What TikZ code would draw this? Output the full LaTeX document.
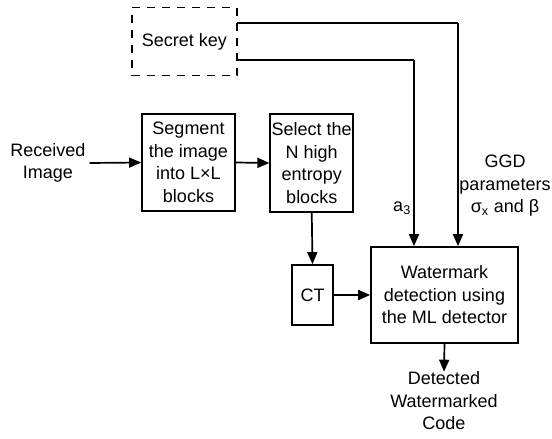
\documentclass[tikz,border=0pt]{standalone}
\usepackage{fontspec}
\setmainfont{Liberation Sans}
\usetikzlibrary{arrows.meta}
\begin{document}
\begin{tikzpicture}[x=1pt,y=-1pt,
  every node/.style={font=\fontsize{18}{22.5}\selectfont, align=center, inner sep=0pt},
  blk/.style={draw, line width=1.7pt, minimum width=#1},
  conn/.style={line width=1.7pt, -{Triangle[length=12pt,width=10pt]}},
  plain/.style={line width=1.7pt}]
\useasboundingbox (0,0) rectangle (552,439);
\node[draw, dashed, dash pattern=on 8pt off 7pt, line width=1.6pt, minimum width=105pt, minimum height=68pt] (secret) at (184.5,41.5) {Secret key};
\node (recv) at (48,163) {Received\\Image};
\node[blk=93pt, minimum height=97pt] (seg) at (188.5,162.5) {Segment\\the image\\into L×L\\blocks};
\node[blk=83pt, minimum height=98pt] (sel) at (311.75,163) {Select the\\N high\\entropy\\blocks};
\node[blk=41pt, minimum height=60pt] (ct) at (312.5,295) {CT};
\node[blk=147pt, minimum height=96pt] (wm) at (444.5,295) {Watermark\\detection using\\the ML detector};
\node (out) at (444,401) {Detected\\Watermarked\\Code};
\node (a3) at (402,208) {a\textsubscript{3}};
\node (ggd) at (505,186) {GGD\\parameters\\σ\textsubscript{x} and β};
\coordinate (k1) at (237,23);
\coordinate (k2) at (237,60);
\coordinate (k1c) at (458,23);
\coordinate (k2c) at (414,60);
\draw[conn] (recv.east) ++(4,0) coordinate (recvE) -- (seg.west);
\draw[conn] (seg.east) -- (sel.west);
\draw[conn] (sel.south) -- (ct.north);
\draw[conn] (ct.east) -- (wm.west);
\draw[plain] (k1) -- (k1c);
\draw[conn] (k1c) -- (wm.north -| k1c);
\draw[plain] (k2) -- (k2c);
\draw[conn] (k2c) -- (wm.north -| k2c);
\draw[conn] (wm.south) -- (out.north);
\end{tikzpicture}
\end{document}
